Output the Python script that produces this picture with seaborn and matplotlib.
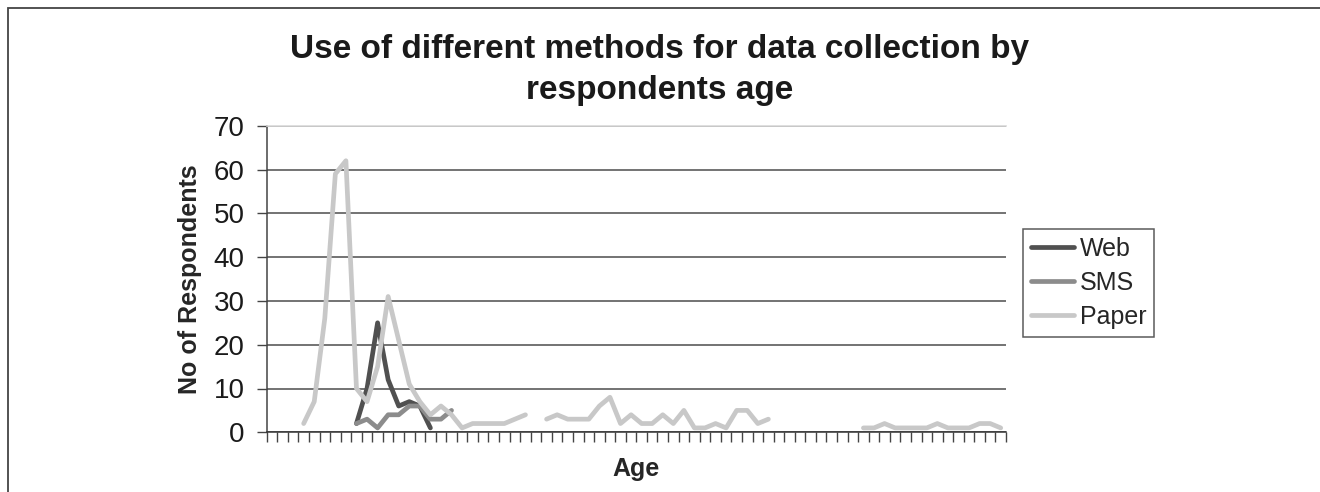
import numpy as np
import pandas as pd
import matplotlib
matplotlib.use('Agg')
import matplotlib.pyplot as plt
from matplotlib.patches import Rectangle
import seaborn as sns

# ---- data (x = age category position, 70 categories, no labels) ----
n_cat = 70

web_start = 8
web = [2, 10, 25, 12, 6, 7, 6, 1]

sms_start = 8
sms = [2, 3, 1, 4, 4, 6, 6, 3, 3, 5]

paper_starts = [3, 26, 56]
paper_1 = [2, 7, 26, 59, 62, 10, 7, 15, 31, 21, 11, 7, 4, 6, 4, 1, 2, 2, 2, 2, 3, 4]
paper_2 = [3, 4, 3, 3, 3, 6, 8, 2, 4, 2, 2, 4, 2, 5, 1, 1, 2, 1, 5, 5, 2, 3]
paper_3 = [1, 1, 2, 1, 1, 1, 1, 2, 1, 1, 1, 2, 2, 1]

methods = ['Web', 'SMS', 'Paper']
colors = ['#505050', '#8c8c8c', '#c8c8c8']

# long table, one "seg" per unbroken run so gaps stay open
rows = []
def add(method, start, vals, seg):
    for i, v in enumerate(vals):
        rows.append({'age': start + i, 'n': v, 'method': method, 'seg': seg})

add('Web', web_start, web, 0)
add('SMS', sms_start, sms, 1)
for k, (s, vals) in enumerate(zip(paper_starts, [paper_1, paper_2, paper_3])):
    add('Paper', s, vals, 2 + k)
df = pd.DataFrame(rows)

sns.set_style('white')
plt.rcParams['font.family'] = ['Liberation Sans', 'DejaVu Sans']

fig = plt.figure(figsize=(13.2, 4.92), dpi=100)
ax = fig.add_axes([266.7 / 1320, 1 - 432.3 / 492, (1006 - 266.7) / 1320, (432.3 - 125.7) / 492])

sns.lineplot(data=df, x='age', y='n', hue='method', hue_order=methods,
             palette=colors, units='seg', estimator=None, linewidth=3.4,
             ax=ax, legend=False)

ax.set_xlim(-0.5, n_cat - 0.5)
ax.set_ylim(0, 70)
ax.set_yticks(range(0, 71, 10))
ax.set_xticks(np.arange(-0.5, n_cat, 1.0))
ax.set_xticklabels([])
ax.yaxis.grid(True, color='#4d4d4d', linewidth=1.1)
ax.set_axisbelow(True)
ax.xaxis.grid(False)

ax.spines['right'].set_visible(False)
ax.spines['top'].set_color('#d9d9d9')
ax.spines['top'].set_linewidth(1.2)
ax.spines['left'].set_color('#444444')
ax.spines['bottom'].set_color('#333333')
ax.spines['left'].set_linewidth(1.1)
ax.spines['bottom'].set_linewidth(1.1)
ax.tick_params(axis='both', direction='out', length=7, width=1, color='#444444',
               bottom=True, left=True)
ax.tick_params(axis='y', labelsize=20, pad=9, labelcolor='#1a1a1a')

ax.set_xlabel('Age', fontsize=18, fontweight='bold', labelpad=7)
ax.set_ylabel('No of Respondents', fontsize=18, fontweight='bold', labelpad=8)

fig.text(0.5, 1 - 70 / 492, 'Use of different methods for data collection by\nrespondents age',
         ha='center', va='center', fontsize=24, fontweight='bold', color='#1a1a1a',
         linespacing=1.4)

handles = [plt.Line2D([], [], color=c, linewidth=3.4) for c in colors]
leg = fig.legend(handles, methods, loc='upper left',
                 bbox_to_anchor=(1023 / 1320, 1 - 229 / 492),
                 fontsize=18, frameon=True, fancybox=False, handlelength=1.7,
                 handletextpad=0.25, labelspacing=0.4, borderpad=0.32,
                 borderaxespad=0)
leg.get_frame().set_edgecolor('#333333')
leg.get_frame().set_linewidth(1.1)

# outer chart border (cut off at the right and bottom like the reference)
fig.patches.append(Rectangle((8 / 1320, -0.2), 1.2, 1.2 - 8 / 492,
                             transform=fig.transFigure, fill=False,
                             edgecolor='#444444', linewidth=1.3))

fig.savefig('out.png', dpi=100)
